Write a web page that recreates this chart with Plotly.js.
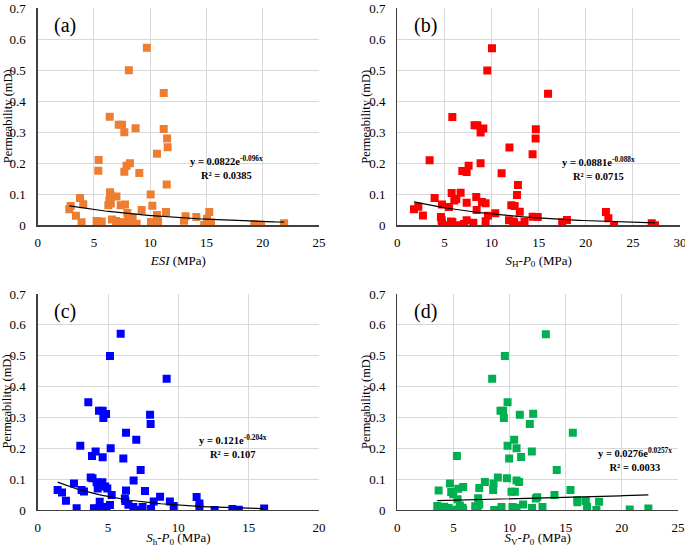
<!DOCTYPE html>
<html>
<head>
<meta charset="utf-8">
<script src="https://cdn.plot.ly/plotly-3.0.1.min.js"></script>
<style>html,body{margin:0;padding:0;background:#fff;}#chart{width:685px;height:547px;}</style>
</head>
<body>
<div id="chart"></div>
<script>
// Panel (a): ESI vs permeability
const esiX = [9.7,8.1,11.2,6.4,7.2,7.5,8.7,11.2,7.7,11.5,11.55,10.6,5.42,8.2,7.9,5.39,7.7,9.03,11.47,6.43,6.49,10.04,3.76,7.0,6.37,6.5,6.28,4.05,7.38,7.76,10.19,2.93,2.81,9.24,11.4,15.25,7.97,10.6,3.4,13.15,14.1,8.44,15.05,6.6,8.05,13.0,5.24,5.69,6.96,10.07,3.9,8.8,10.7,15.4,19.25,19.85,21.9,5.54,5.39,8.7,14.8,7.4,7.7,8.2];
const esiY = [0.573,0.50,0.427,0.35,0.324,0.324,0.313,0.311,0.30,0.28,0.252,0.231,0.211,0.20,0.192,0.176,0.173,0.169,0.132,0.107,0.097,0.099,0.088,0.093,0.081,0.070,0.065,0.068,0.065,0.067,0.063,0.062,0.052,0.049,0.043,0.043,0.040,0.033,0.031,0.029,0.027,0.025,0.021,0.019,0.017,0.015,0.014,0.012,0.014,0.011,0.0095,0.005,0.012,0.009,0.003,0.002,0.007,0.006,0.001,0.001,0.001,0.0096,0.0096,0.0096];

// Panel (b): SH-P0 vs permeability
const shX = [10.05,9.55,16.0,5.84,8.2,8.5,9.13,8.84,14.7,14.68,11.9,14.36,3.43,7.57,8.84,6.9,7.36,11.07,12.8,5.77,6.72,12.7,3.96,8.38,6.26,6.05,7.36,8.98,9.37,4.74,12.1,12.46,5.48,2.23,1.77,8.42,13.0,4.63,4.7,2.72,9.62,10.4,14.36,14.9,22.14,22.4,18.0,17.5,11.85,7.36,9.37,12.4,13.5,8.07,5.84,4.74,7.07,5.24,6.37,13.2,23.0,27.0,27.35,5.7,12.3];
const shY = [0.571,0.499,0.424,0.349,0.323,0.323,0.312,0.299,0.310,0.280,0.251,0.229,0.210,0.192,0.200,0.175,0.172,0.168,0.130,0.104,0.105,0.098,0.088,0.091,0.085,0.080,0.073,0.075,0.071,0.067,0.065,0.062,0.059,0.060,0.052,0.049,0.044,0.027,0.017,0.032,0.031,0.039,0.028,0.027,0.043,0.023,0.017,0.0097,0.016,0.016,0.013,0.0097,0.011,0.0086,0.011,0.0086,0.004,0.0,0.0,0.0,0.0,0.0065,0.0,0.012,0.012];

// Panel (c): Sh-P0 vs permeability
const shminX = [5.9,5.14,9.17,3.6,4.36,4.62,4.86,4.67,7.99,8.03,6.28,7.01,3.03,4.12,5.19,3.86,4.62,6.09,7.32,3.77,3.9,6.82,2.58,4.19,4.6,4.38,4.8,4.95,4.27,6.28,7.63,3.12,3.29,1.42,1.73,5.26,2.01,8.7,11.3,6.2,6.23,8.25,9.4,11.5,9.67,7.46,6.45,6.8,4.41,5.14,4.9,4.0,4.19,4.36,4.55,2.77,4.36,6.92,8.06,11.5,12.58,13.84,14.3,16.1];
const shminY = [0.571,0.499,0.425,0.349,0.322,0.322,0.311,0.298,0.309,0.279,0.250,0.228,0.208,0.190,0.200,0.175,0.171,0.167,0.130,0.105,0.103,0.096,0.086,0.090,0.090,0.081,0.076,0.070,0.070,0.063,0.062,0.065,0.060,0.065,0.057,0.049,0.030,0.043,0.042,0.037,0.029,0.028,0.028,0.021,0.013,0.0097,0.017,0.0097,0.027,0.016,0.0097,0.006,0.004,0.004,0.004,0.006,0.0,0.0,0.003,0.0086,0.0,0.003,0.001,0.005];

// Panel (d): SV-P0 vs permeability
const svX = [13.23,9.58,8.45,9.82,9.19,9.43,10.91,12.1,9.49,11.8,15.63,10.41,9.82,10.62,11.98,5.31,9.96,11.03,14.2,8.96,9.76,7.8,10.62,10.85,4.69,8.57,5.87,5.43,7.3,3.68,4.8,4.98,8.54,10.17,10.47,15.42,14.0,12.46,12.34,7.2,16.04,16.79,17.97,16.04,5.37,7.3,11.2,3.56,4.18,4.57,5.57,5.81,6.94,9.28,10.26,10.62,12.0,12.93,16.9,5.0,5.43,5.87,7.15,8.63,17.73,20.7,22.36];
const svY = [0.570,0.499,0.425,0.349,0.322,0.322,0.309,0.312,0.298,0.279,0.250,0.228,0.208,0.200,0.190,0.175,0.167,0.172,0.130,0.105,0.103,0.091,0.096,0.091,0.086,0.086,0.075,0.069,0.071,0.063,0.058,0.051,0.065,0.059,0.059,0.065,0.049,0.041,0.037,0.038,0.032,0.029,0.027,0.025,0.035,0.018,0.018,0.013,0.011,0.0065,0.015,0.0076,0.012,0.0097,0.0097,0.0076,0.0065,0.0097,0.011,0.0,0.002,0.0,0.0,0.0,0.0,0.002,0.005];

// Exponential trendline coefficients shown on the chart: y = a * e^(b x)
const trendA = [0.0822, -0.096];
const trendB = [0.0881, -0.088];
const trendC = [0.121, -0.204];
const trendD = [0.0276, 0.0257];
const eqTexts = ["y = 0.0822e<sup>-0.096x</sup><br>R² = 0.0385",
                 "y = 0.0881e<sup>-0.088x</sup><br>R² = 0.0715",
                 "y = 0.121e<sup>-0.204x</sup><br>R² = 0.107",
                 "y = 0.0276e<sup>0.0257x</sup><br>R² = 0.0033"];
const panelLabels = ["(a)", "(b)", "(c)", "(d)"];
const xTitles = ["<i>ESI</i> (MPa)",
                 "<i>S</i><sub>H</sub>-<i>P</i><sub>0</sub> (MPa)",
                 "<i>S</i><sub>h</sub>-<i>P</i><sub>0</sub> (MPa)",
                 "<i>S</i><sub>V</sub>-<i>P</i><sub>0</sub> (MPa)"];
const yTitle = "Permeability (mD)";
const yTickVals = [0, 0.1, 0.2, 0.3, 0.4, 0.5, 0.6, 0.7];
const yTickText = ["0", "0.1", "0.2", "0.3", "0.4", "0.5", "0.6", "0.7"];
const xMax = [25, 30, 20, 25];
const colors = ["#ED7D31", "#FF0000", "#0000FF", "#00B050"];

function trendLine(xs, coef) {
  const lo = Math.min(...xs), hi = Math.max(...xs);
  const tx = [], ty = [];
  for (let i = 0; i <= 60; i++) {
    const x = lo + (hi - lo) * i / 60;
    tx.push(x); ty.push(coef[0] * Math.exp(coef[1] * x));
  }
  return {tx, ty};
}

const sets = [[esiX, esiY, trendA], [shX, shY, trendB], [shminX, shminY, trendC], [svX, svY, trendD]];
const traces = [];
sets.forEach((s, i) => {
  const ax = i === 0 ? '' : String(i + 1);
  traces.push({x: s[0], y: s[1], type: 'scatter', mode: 'markers', xaxis: 'x' + ax, yaxis: 'y' + ax,
    marker: {symbol: 'square', size: 8, color: colors[i], line: {width: 0}}, showlegend: false, hoverinfo: 'x+y'});
  const t = trendLine(s[0], s[2]);
  traces.push({x: t.tx, y: t.ty, type: 'scatter', mode: 'lines', xaxis: 'x' + ax, yaxis: 'y' + ax,
    line: {color: '#000', width: 1.2}, showlegend: false, hoverinfo: 'skip'});
});

const FAM = 'Liberation Serif, Times New Roman, serif';
function f(size) { return {family: FAM, size: size, color: '#000'}; }
const xDomains = [[0.055, 0.4657], [0.580, 0.9927], [0.055, 0.4657], [0.580, 0.9898]];
const yDomains = [[0.5881, 0.9848], [0.5881, 0.9848], [0.0676, 0.4625], [0.0676, 0.4625]];
const eqPos = [[16.8, 0.186], [21.3, 0.183], [13.9, 0.206], [21.2, 0.163]];
const yTitleX = [7.5, 366, 7.5, 366];   // pixel centre of rotated y titles

const layout = {
  width: 685, height: 547,
  margin: {l: 0, r: 0, t: 0, b: 0},
  paper_bgcolor: '#fff', plot_bgcolor: '#fff',
  font: f(13),
  showlegend: false,
  annotations: []
};
for (let i = 0; i < 4; i++) {
  const ax = i === 0 ? '' : String(i + 1);
  layout['xaxis' + ax] = {
    domain: xDomains[i], anchor: 'y' + ax, range: [0, xMax[i]], dtick: 5, tick0: 0,
    showgrid: true, gridcolor: '#d9d9d9', gridwidth: 1, zeroline: false,
    showline: true, linecolor: '#404040', linewidth: 1.3,
    ticks: 'outside', ticklen: 5, tickcolor: 'rgba(0,0,0,0)',
    tickfont: f(13), ticklabeloverflow: 'allow',
    title: {text: xTitles[i], font: f(13), standoff: 6},
    automargin: false
  };
  layout['yaxis' + ax] = {
    domain: yDomains[i], anchor: 'x' + ax, range: [0, 0.7],
    tickmode: 'array', tickvals: yTickVals, ticktext: yTickText,
    showgrid: true, gridcolor: '#d9d9d9', gridwidth: 1, zeroline: false,
    showline: true, linecolor: '#404040', linewidth: 1.3,
    ticks: 'outside', ticklen: 8, tickcolor: 'rgba(0,0,0,0)',
    tickfont: f(13), ticklabeloverflow: 'allow',
    automargin: false
  };
  const yd = yDomains[i];
  layout.annotations.push({
    xref: 'paper', yref: 'paper', x: yTitleX[i] / 685, y: (yd[0] + yd[1]) / 2,
    xanchor: 'center', yanchor: 'middle', textangle: -90,
    text: yTitle, showarrow: false, font: f(12.5)
  });
  layout.annotations.push({
    xref: 'x' + ax + ' domain', yref: 'y' + ax, x: 0.052, y: 0.643, xanchor: 'left', yanchor: 'middle',
    text: panelLabels[i], showarrow: false, font: f(20)
  });
  layout.annotations.push({
    xref: 'x' + ax, yref: 'y' + ax, x: eqPos[i][0], y: eqPos[i][1], xanchor: 'center', yanchor: 'middle',
    text: '<b>' + eqTexts[i].replace('<br>', '</b><br><b>') + '</b>', showarrow: false, align: 'center',
    font: f(10.5)
  });
}

Plotly.newPlot('chart', traces, layout, {displayModeBar: false, staticPlot: true});
</script>
</body>
</html>
